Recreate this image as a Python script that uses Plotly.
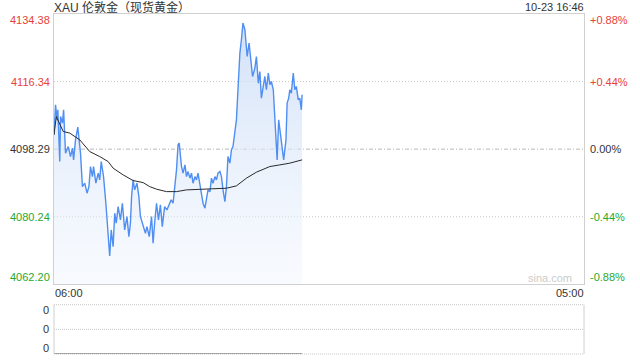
import plotly.graph_objects as go

# ---- data (minutes after 06:00, price) ----
minutes = [0, 4, 8, 10, 15, 17, 22, 25, 30, 37, 43, 48, 51, 56, 62, 65, 69, 74, 80, 86,
           91, 95, 100, 103, 109, 115, 119, 123, 129, 135, 141, 145, 149, 154, 158, 162, 167, 173, 178, 184,
           190, 195, 199, 202, 206, 210, 216, 221, 225, 232, 238, 242, 248, 254, 258, 262, 267, 272, 277, 282,
           288, 294, 300, 305, 310, 314, 319, 323, 326, 332, 336, 341, 345, 349, 354, 358, 362, 367, 371, 375,
           380, 384, 388, 393, 397, 401, 406, 410, 414, 419, 423, 427, 432, 436, 440, 445, 449, 453, 458, 462,
           466, 471, 475, 479, 484, 488, 492, 497, 499, 503, 508, 512, 517, 523, 527, 532, 536, 540, 545, 549,
           553, 558, 562, 566, 571, 575, 579, 581, 585, 590, 595, 598, 604, 607, 611, 614, 618, 623, 627, 631,
           636, 640, 644, 646]
price = [4102.11, 4110.13, 4106.12, 4108.80, 4094.98, 4107.00, 4105.24, 4108.80, 4097.22, 4098.98,
         4096.31, 4098.56, 4095.43, 4100.78, 4104.17, 4100.78, 4097.22, 4088.29, 4089.20, 4086.53,
         4088.29, 4093.64, 4090.96, 4093.64, 4089.20, 4091.87, 4090.08, 4094.98, 4090.96, 4083.85,
         4076.72, 4069.77, 4076.72, 4072.25, 4081.18, 4078.51, 4082.94, 4079.39, 4083.85, 4076.72,
         4080.27, 4074.92, 4078.51, 4085.62, 4090.08, 4087.41, 4089.20, 4085.62, 4080.27, 4077.60,
         4075.83, 4077.60, 4074.92, 4080.27, 4073.16, 4078.51, 4083.85, 4079.39, 4083.40, 4077.60,
         4082.94, 4082.06, 4083.40, 4084.74, 4083.85, 4087.41, 4092.76, 4099.44, 4099.89, 4093.64,
         4091.87, 4094.09, 4090.96, 4092.30, 4090.54, 4091.87, 4089.20, 4090.96, 4090.08, 4091.87,
         4088.29, 4085.62, 4083.85, 4082.52, 4085.62, 4087.41, 4086.95, 4090.54, 4089.20, 4090.96,
         4090.08, 4091.87, 4092.30, 4090.96, 4087.41, 4084.28, 4088.29, 4096.31, 4094.55, 4098.10,
         4098.98, 4103.45, 4106.12, 4114.14, 4123.95, 4127.51, 4131.97, 4130.18, 4127.06, 4123.04,
         4126.63, 4122.16, 4117.70, 4119.94, 4123.04, 4115.93, 4119.03, 4111.92, 4115.93, 4117.70,
         4114.14, 4118.61, 4115.48, 4116.36, 4114.14, 4106.12, 4098.10, 4095.43, 4106.12, 4101.66,
         4098.10, 4095.43, 4100.78, 4110.59, 4111.92, 4114.14, 4113.26, 4118.61, 4114.14, 4115.03,
         4111.47, 4111.92, 4108.80, 4112.81]

avg_minutes = [0, 6, 24, 41, 67, 93, 119, 141, 154, 180, 206, 232, 249, 267, 293, 319, 345, 388,
               449, 475, 501, 527, 562, 588, 614, 646]
avg_price = [4102.11, 4107.00, 4103.00, 4102.57, 4100.78, 4097.65, 4096.31, 4094.98, 4093.21, 4091.42,
             4089.90, 4089.36, 4088.29, 4087.60, 4086.95, 4086.95, 4087.41, 4087.60, 4087.86, 4088.48,
             4090.54, 4092.14, 4093.64, 4094.09, 4094.55, 4095.43]

volume = [0] * len(minutes)

y_ticks = [4134.38, 4116.34, 4098.29, 4080.24, 4062.20]
pct_ticks = ["+0.88%", "+0.44%", "0.00%", "-0.44%", "-0.88%"]
tick_colors = ["#e8413a", "#e8413a", "#333333", "#2aa82a", "#2aa82a"]
x_labels = ["06:00", "05:00"]
x_span = [0, 1380]
title_text = "XAU 伦敦金（现货黄金）"
date_text = "10-23 16:46"

FONT = "Liberation Sans, Arial, Noto Sans CJK SC, sans-serif"
GRID = "#c8c8c8"
BORDER = "#d0d0d0"

fig = go.Figure()

fig.add_trace(go.Scatter(
    x=minutes, y=price, mode="lines",
    line=dict(color="#4f8ef2", width=1.4),
    fill="tozeroy",
    fillgradient=dict(type="vertical",
                      colorscale=[[0, "rgba(235,242,253,0.35)"], [1, "rgba(200,218,246,0.85)"]],
                      start=y_ticks[-1], stop=y_ticks[0]),
    xaxis="x", yaxis="y", hoverinfo="skip"))
fig.add_trace(go.Scatter(
    x=avg_minutes, y=avg_price, mode="lines",
    line=dict(color="#2a2a2a", width=1),
    xaxis="x", yaxis="y", hoverinfo="skip"))
fig.add_trace(go.Scatter(
    x=minutes, y=volume, mode="lines",
    line=dict(color="#8a8a8a", width=1.5),
    xaxis="x2", yaxis="y2", hoverinfo="skip"))

shapes = []
# main gridlines
for i, v in enumerate(y_ticks[1:4]):
    shapes.append(dict(type="line", xref="x domain", yref="y", x0=0, x1=1, y0=v, y1=v,
                       line=dict(color=GRID if i != 1 else "#b8b8b8", width=1,
                                 dash="1px,2px" if i != 1 else "4px,2px,1px,2px"), layer="below"))
# volume panel borders
shapes.append(dict(type="line", xref="x2 domain", yref="y2 domain", x0=0, x1=1, y0=1, y1=1,
                   line=dict(color=GRID, width=1, dash="1px,1px")))
shapes.append(dict(type="line", xref="x2 domain", yref="y2 domain", x0=0, x1=1, y0=0.5, y1=0.5,
                   line=dict(color=GRID, width=1, dash="1px,1px")))
shapes.append(dict(type="line", xref="x2 domain", yref="y2 domain", x0=0, x1=1, y0=0, y1=0,
                   line=dict(color=GRID, width=1, dash="1px,1px"), layer="below"))
for xx in (0, 1):
    shapes.append(dict(type="line", xref="x2 domain", yref="y2 domain", x0=xx, x1=xx, y0=0, y1=1,
                       line=dict(color=BORDER, width=1)))

ann = []
shifts = [-6, 0, 0, 0, 7]
for v, p, c, s in zip(y_ticks, pct_ticks, tick_colors, shifts):
    ann.append(dict(xref="x domain", yref="y", x=0, y=v, xanchor="right", yanchor="middle",
                    xshift=-2, yshift=s, text=f"{v:.2f}", showarrow=False,
                    font=dict(family=FONT, size=11, color=c)))
    ann.append(dict(xref="x domain", yref="y", x=1, y=v, xanchor="left", yanchor="middle",
                    xshift=4, yshift=s, text=p, showarrow=False,
                    font=dict(family=FONT, size=11, color=c)))
ann.append(dict(xref="x domain", yref="y domain", x=0, y=0, xanchor="left", yanchor="middle",
                xshift=-1, yshift=-9, text=x_labels[0], showarrow=False,
                font=dict(family=FONT, size=11, color="#333")))
ann.append(dict(xref="x domain", yref="y domain", x=1, y=0, xanchor="right", yanchor="middle",
                xshift=2, yshift=-9, text=x_labels[1], showarrow=False,
                font=dict(family=FONT, size=11, color="#333")))
ann.append(dict(xref="x domain", yref="y domain", x=0, y=1, xanchor="left", yanchor="middle",
                xshift=-2, yshift=7, text=title_text, showarrow=False,
                font=dict(family=FONT, size=12, color="#333")))
ann.append(dict(xref="x domain", yref="y domain", x=1, y=1, xanchor="right", yanchor="middle",
                xshift=2, yshift=7, text=date_text, showarrow=False,
                font=dict(family=FONT, size=11, color="#333")))
ann.append(dict(xref="x domain", yref="y domain", x=1, y=0, xanchor="right", yanchor="middle",
                xshift=-10, yshift=6, text="sina.com", showarrow=False,
                font=dict(family=FONT, size=11, color="#cccccc")))
for yy, s in ((1, -5), (0.5, 0), (0, 6)):
    ann.append(dict(xref="x2 domain", yref="y2 domain", x=0, y=yy, xanchor="right", yanchor="middle",
                    xshift=-3, yshift=s, text="0", showarrow=False,
                    font=dict(family=FONT, size=11, color="#333")))

fig.update_layout(
    width=640, height=360,
    margin=dict(l=54, r=56, t=14, b=6),
    paper_bgcolor="white", plot_bgcolor="white",
    showlegend=False,
    xaxis=dict(domain=[0, 1], range=x_span, showgrid=False, zeroline=False, showticklabels=False,
               showline=True, mirror=True, linecolor=BORDER, linewidth=1, ticks="", anchor="y"),
    yaxis=dict(domain=[0.205, 1], range=[y_ticks[-1], y_ticks[0]], showgrid=False, zeroline=False,
               showticklabels=False, showline=True, mirror=True, linecolor=BORDER, linewidth=1, ticks=""),
    xaxis2=dict(domain=[0, 1], range=x_span, showgrid=False, zeroline=False, showticklabels=False,
                showline=False, anchor="y2", matches="x"),
    yaxis2=dict(domain=[0, 0.145], range=[0, 1], showgrid=False, zeroline=False, showticklabels=False,
                showline=False),
    shapes=shapes, annotations=ann,
)

fig.write_html("out.html")
